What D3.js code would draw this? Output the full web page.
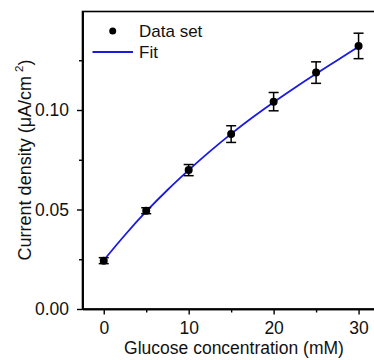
<!DOCTYPE html>
<html>
<head>
<meta charset="utf-8">
<script src="https://cdn.jsdelivr.net/npm/d3@7"></script>
<style>
  html, body { margin: 0; padding: 0; background: #fff; }
  svg { display: block; font-family: "Liberation Sans", Arial, sans-serif; }
</style>
</head>
<body>
<svg id="chart" width="374" height="360"></svg>
<script>
// Measured response: glucose concentration (mM) vs current density (µA/cm²)
const concentration = [0, 5, 10, 15, 20, 25, 30];
const currentDensity = [0.0243, 0.0494, 0.0698, 0.0879, 0.1042, 0.1188, 0.1322];
const errorBar = [0.0015, 0.0015, 0.0028, 0.0042, 0.0046, 0.0054, 0.0064];

// Fitted curve sampled along the concentration range
const fitConcentration = [0, 2.5, 5, 7.5, 10, 12.5, 15, 17.5, 20, 22.5, 25, 27.5, 30];
const fitDensity = [0.0245, 0.0372, 0.0490, 0.0598, 0.0698, 0.0792, 0.0880, 0.0962, 0.1039, 0.1112, 0.1182, 0.1250, 0.1318];

// Axis ticks
const xMajorTicks = [0, 10, 20, 30];
const xMinorTicks = [5, 15, 25];
const yMajorTicks = [0, 0.05, 0.10];
const yMinorTicks = [0.025, 0.075, 0.125];

const legendLabels = ["Data set", "Fit"];

const svg = d3.select("#chart");
const fitColor = "#1a1ae0";
const fontSize = 17.5;

const x = d3.scaleLinear().domain([-2.5, 32.5]).range([82.5, 379.8]);
const y = d3.scaleLinear().domain([0, 0.1495]).range([309, 11.5]);

// Plot frame (right side runs past the view)
svg.append("rect")
  .attr("x", x(-2.5)).attr("y", y(0.1495))
  .attr("width", x(32.5) - x(-2.5)).attr("height", y(0) - y(0.1495))
  .attr("fill", "none").attr("stroke", "#000").attr("stroke-width", 1.6);

// Axes
const xAxis = svg.append("g").attr("transform", `translate(0,${y(0)})`)
  .call(d3.axisBottom(x).tickValues(xMajorTicks).tickSize(5.5).tickSizeOuter(0).tickPadding(7)
    .tickFormat(d3.format("d")));
const xAxisMinor = svg.append("g").attr("transform", `translate(0,${y(0)})`)
  .call(d3.axisBottom(x).tickValues(xMinorTicks).tickSize(3.5).tickSizeOuter(0).tickFormat(""));
const yAxis = svg.append("g").attr("transform", `translate(${x(-2.5)},0)`)
  .call(d3.axisLeft(y).tickValues(yMajorTicks).tickSize(5.5).tickSizeOuter(0).tickPadding(8)
    .tickFormat(d3.format(".2f")));
const yAxisMinor = svg.append("g").attr("transform", `translate(${x(-2.5)},0)`)
  .call(d3.axisLeft(y).tickValues(yMinorTicks).tickSize(3.5).tickSizeOuter(0).tickFormat(""));

[xAxis, xAxisMinor, yAxis, yAxisMinor].forEach(g => {
  g.select(".domain").attr("stroke-width", 1.6);
  g.selectAll(".tick line").attr("stroke-width", 1.4);
  g.selectAll("text").attr("font-size", fontSize).attr("font-family", "Liberation Sans, Arial, sans-serif").attr("fill", "#111");
});

// Axis titles
svg.append("text")
  .attr("x", 234).attr("y", 354)
  .attr("text-anchor", "middle").attr("font-size", fontSize).attr("fill", "#111")
  .text("Glucose concentration (mM)");

const yTitle = svg.append("text")
  .attr("transform", "translate(30.5,160) rotate(-90)")
  .attr("text-anchor", "middle").attr("font-size", 18).attr("fill", "#111");
yTitle.append("tspan").text("Current density (μA/cm");
yTitle.append("tspan").attr("dx", 4).attr("dy", -8).attr("font-size", 11.5).text("2");
yTitle.append("tspan").attr("dy", 8).text(")");

// Fitted curve
const line = d3.line()
  .x((d, i) => x(fitConcentration[i]))
  .y(d => y(d))
  .curve(d3.curveMonotoneX);
svg.append("path")
  .datum(fitDensity)
  .attr("d", line)
  .attr("fill", "none").attr("stroke", fitColor).attr("stroke-width", 1.8);

// Error bars
const cap = 5;
const bars = svg.append("g").attr("stroke", "#000").attr("stroke-width", 1.5);
concentration.forEach((c, i) => {
  const cx = x(c), top = y(currentDensity[i] + errorBar[i]), bot = y(currentDensity[i] - errorBar[i]);
  bars.append("line").attr("x1", cx).attr("x2", cx).attr("y1", top).attr("y2", bot);
  bars.append("line").attr("x1", cx - cap).attr("x2", cx + cap).attr("y1", top).attr("y2", top);
  bars.append("line").attr("x1", cx - cap).attr("x2", cx + cap).attr("y1", bot).attr("y2", bot);
});

// Data points
svg.append("g").selectAll("circle")
  .data(currentDensity)
  .join("circle")
  .attr("cx", (d, i) => x(concentration[i]))
  .attr("cy", d => y(d))
  .attr("r", 4)
  .attr("fill", "#000");

// Legend
const legend = svg.append("g");
legend.append("circle").attr("cx", 112.7).attr("cy", 31).attr("r", 3.5).attr("fill", "#000");
legend.append("text").attr("x", 139).attr("y", 37).attr("font-size", 17).attr("fill", "#111").text(legendLabels[0]);
legend.append("line").attr("x1", 92.5).attr("x2", 133).attr("y1", 52).attr("y2", 52)
  .attr("stroke", fitColor).attr("stroke-width", 1.8);
legend.append("text").attr("x", 139).attr("y", 58).attr("font-size", 17).attr("fill", "#111").text(legendLabels[1]);
</script>
</body>
</html>
